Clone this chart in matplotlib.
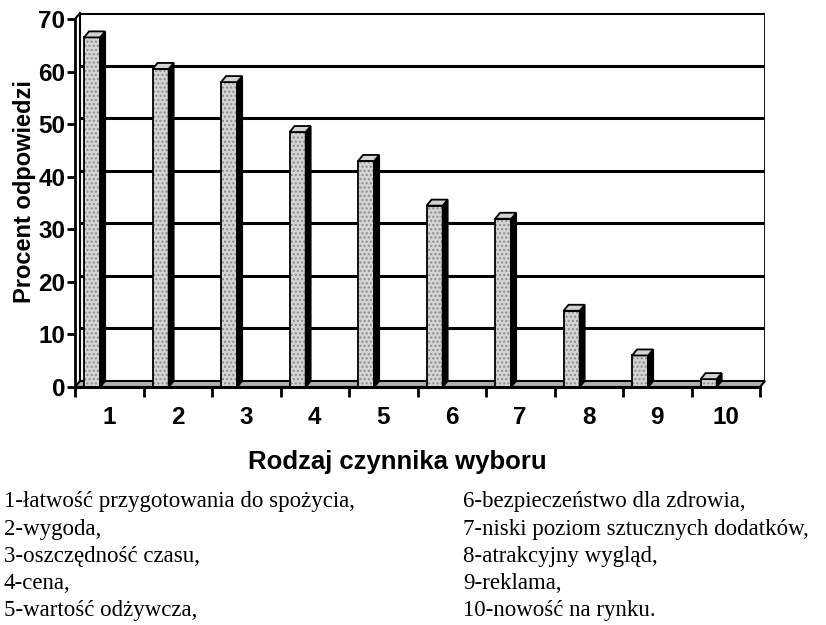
import matplotlib.pyplot as plt
from matplotlib.patches import Polygon

# dane
kategorie = ['1', '2', '3', '4', '5', '6', '7', '8', '9', '10']
wartosci = [66.5, 60.5, 58, 48.5, 43, 34.5, 32, 14.5, 6, 1.5]
opisy_lewe = ['1-łatwość przygotowania do spożycia,', '2-wygoda,',
              '3-oszczędność czasu,', '4-cena,', '5-wartość odżywcza,']
opisy_prawe = ['6-bezpieczeństwo dla zdrowia,', '7-niski poziom sztucznych dodatków,',
               '8-atrakcyjny wygląd,', '9-reklama,', '10-nowość na rynku.']

W, H = 826, 625
fig = plt.figure(figsize=(W / 100, H / 100), dpi=100)
ax = fig.add_axes([75 / W, (H - 387) / H, 690 / W, 374 / H])

# przesuniecie "glebokosci" 3D w jednostkach danych
dx = 5 / 68.5
dy = 6 / 5.257
n = len(wartosci)
ax.set_xlim(0, n + dx)
ax.set_ylim(0, 70 + dy)
for s in ax.spines.values():
    s.set_visible(False)

# tylna sciana z liniami siatki
for y in range(10, 80, 10):
    ax.plot([dx, n + dx], [y + dy, y + dy], color='black', lw=2.2, zorder=1,
            solid_capstyle='butt')
ax.plot([dx, dx], [dy, 70 + dy], color='black', lw=1.5, zorder=1)
ax.plot([n + dx, n + dx], [dy, 70 + dy], color='black', lw=2, zorder=1)
ax.plot([0, dx], [70, 70 + dy], color='black', lw=1.5, zorder=1, clip_on=False)

# podloga
ax.add_patch(Polygon([(0, 0), (n, 0), (n + dx, dy), (dx, dy)], closed=True,
                     fc='#b0b0b0', ec='black', lw=1.5, zorder=2, clip_on=False))

# os pionowa i pozioma z przodu
ax.plot([0, 0], [0, 70], color='black', lw=2, zorder=5, clip_on=False)
ax.plot([0, n], [0, 0], color='black', lw=2.2, zorder=5, clip_on=False)

# slupki 3D
szer = 0.235
przes = 0.25
for i, v in enumerate(wartosci):
    xc = i + przes
    l, r = xc - szer / 2, xc + szer / 2
    ax.bar(xc, v, width=szer, color='#d4d4d4', edgecolor='#8a8a8a', hatch='....',
           lw=0, zorder=3)
    ax.bar(xc, v, width=szer, fill=False, edgecolor='black', lw=1.3, zorder=4)
    ax.add_patch(Polygon([(r, 0), (r + dx, dy), (r + dx, v + dy), (r, v)], closed=True,
                         fc='black', ec='black', lw=1.3, zorder=4))
    ax.add_patch(Polygon([(l, v), (r, v), (r + dx, v + dy), (l + dx, v + dy)], closed=True,
                         fc='#d4d4d4', ec='black', lw=1.3, zorder=4))

# podzialki
ax.set_yticks(range(0, 80, 10))
ax.set_yticklabels([str(y) for y in range(0, 80, 10)], fontsize=17.5, fontweight='bold',
                   family='Liberation Sans')
ax.tick_params(axis='y', length=6, width=2, pad=1)
ax.set_xticks([i + 0.5 for i in range(n)])
ax.set_xticklabels(kategorie, fontsize=17.5, fontweight='bold', family='Liberation Sans')
ax.set_xticks(range(0, n + 1), minor=True)
ax.tick_params(axis='x', which='major', length=0, pad=14)
ax.tick_params(axis='x', which='minor', length=7, width=2)

fig.text(25 / W, 1 - 192 / H, 'Procent odpowiedzi', rotation=90, ha='center', va='center',
         fontsize=17, fontweight='bold', family='Liberation Sans')
fig.text(397 / W, 1 - 462 / H, 'Rodzaj czynnika wyboru', ha='center', va='center',
         fontsize=18.5, fontweight='bold', family='Liberation Sans')

# objasnienia
for k, (a, b) in enumerate(zip(opisy_lewe, opisy_prawe)):
    y = 1 - (502 + k * 27.2) / H
    fig.text(4 / W, y, a, ha='left', va='center', fontsize=16.5, family='Liberation Serif')
    fig.text(463 / W, y, b, ha='left', va='center', fontsize=16.5, family='Liberation Serif')

fig.savefig('out.png', dpi=100)
